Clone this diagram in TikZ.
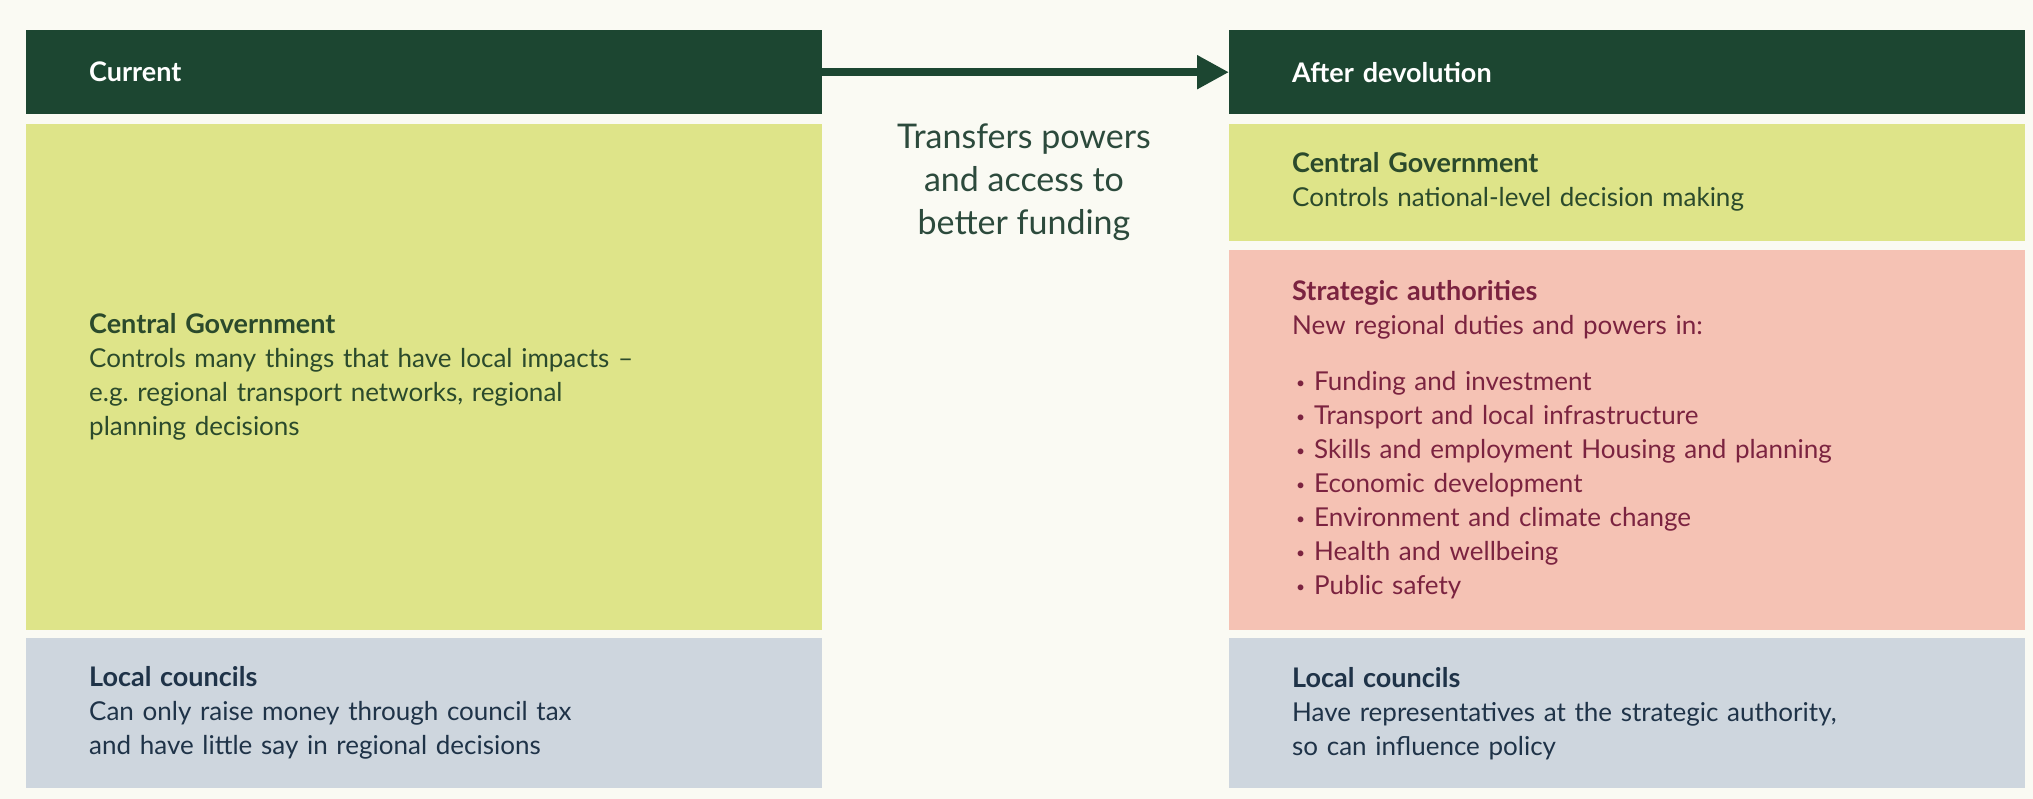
\documentclass[tikz,border=0pt]{standalone}
\usepackage{fontspec}
\setmainfont{Lato}
\usetikzlibrary{positioning,arrows.meta}
\definecolor{bgcream}{HTML}{FAFAF3}
\definecolor{headgreen}{HTML}{1C4631}
\definecolor{govgreen}{HTML}{DEE489}
\definecolor{stratpink}{HTML}{F5C2B4}
\definecolor{localgrey}{HTML}{CED6DE}
\definecolor{govtext}{HTML}{2B4A2C}
\definecolor{strattext}{HTML}{7B2340}
\definecolor{localtext}{HTML}{1F3348}
\definecolor{midtext}{HTML}{2C4A3C}
\newcommand{\bul}[1]{\makebox[22pt][l]{\hspace{4pt}\raisebox{2pt}{\scalebox{0.6}{\textbullet}}}#1}
\newcommand{\ttl}[1]{{\bfseries\fontsize{27}{34}\selectfont #1}}

\begin{document}
\begin{tikzpicture}[x=1pt,y=-1pt,>={Triangle[length=32pt,width=32pt]},
                    node distance=9pt,
                    panel/.style={rectangle,minimum width=796pt,text width=670pt,
                      inner xsep=63pt,inner ysep=0pt,align=left,
                      font=\fontsize{26}{34}\selectfont},
                    head/.style={panel,fill=headgreen,text=white,minimum height=84pt,
                      font=\bfseries\fontsize{27}{34}\selectfont}]
  \fill[bgcream] (0,0) rectangle (2033,799);
  % current column
  \node[head,anchor=north west] (curhead) at (26,30) {Current};
  \node[panel,fill=govgreen,text=govtext,minimum height=506pt] (curgov) [below=of curhead]
    {\ttl{Central Government}\\
     Controls many things that have local impacts --\\
     e.g.\ regional transport networks, regional\\
     planning decisions};
  \node[panel,fill=localgrey,text=localtext,minimum height=150pt] (curlocal) [below=8pt of curgov]
    {\ttl{Local councils}\\
     Can only raise money through council tax\\
     and have little say in regional decisions};
  % after devolution column
  \node[head,anchor=north west] (afthead) at (1229,30) {After devolution};
  \node[panel,fill=govgreen,text=govtext,minimum height=117pt] (aftgov) [below=of afthead]
    {\ttl{Central Government}\\
     Controls national-level decision making};
  \node[panel,fill=stratpink,text=strattext,minimum height=380pt] (aftstrat) [below=of aftgov]
    {\ttl{Strategic authorities}\\
     New regional duties and powers in:\\[22pt]
     \bul{Funding and investment}\\
     \bul{Transport and local infrastructure}\\
     \bul{Skills and employment Housing and planning}\\
     \bul{Economic development}\\
     \bul{Environment and climate change}\\
     \bul{Health and wellbeing}\\
     \bul{Public safety}};
  \node[panel,fill=localgrey,text=localtext,minimum height=150pt] (aftlocal) [below=8pt of aftstrat]
    {\ttl{Local councils}\\
     Have representatives at the strategic authority,\\
     so can influence policy};
  % transfer
  \node[align=center,text=midtext,font=\fontsize{34}{43}\selectfont] (transfer) at (1024,182)
    {Transfers powers\\ and access to\\ better funding};
  \draw[->,line width=8pt,headgreen] (curhead.east) -- (afthead.west);
\end{tikzpicture}
\end{document}
